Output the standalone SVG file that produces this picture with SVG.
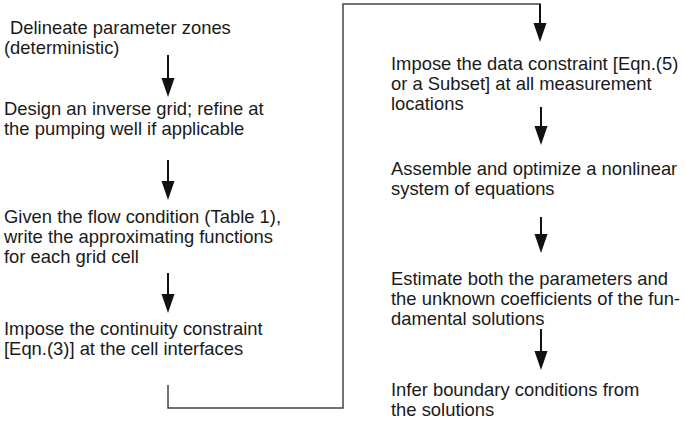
<svg xmlns="http://www.w3.org/2000/svg" width="686" height="422" viewBox="0 0 686 422">
  <defs>
    <marker id="ah" markerUnits="userSpaceOnUse" markerWidth="20" markerHeight="14" refX="9" refY="6.5" orient="auto">
      <path d="M0,0 L19,6.5 L0,13 z" fill="#111"/>
    </marker>
    <style>
      text { font-family: "Liberation Sans", Arial, sans-serif; font-size: 18.4px; fill: #1a1a1a; }
      .arrow { stroke: #111; stroke-width: 2; fill: none; marker-end: url(#ah); }
      .conn { stroke: #444; stroke-width: 1.5; fill: none; }
    </style>
  </defs>
  <rect width="686" height="422" fill="#fff"/>

  <g id="n1">
    <text x="10" y="34">Delineate parameter zones</text>
    <text x="4" y="54">(deterministic)</text>
  </g>
  <g id="n2">
    <text x="4" y="115">Design an inverse grid; refine at</text>
    <text x="4" y="135">the pumping well if applicable</text>
  </g>
  <g id="n3">
    <text x="4" y="223">Given the flow condition (Table 1),</text>
    <text x="4" y="243">write the approximating functions</text>
    <text x="4" y="263">for each grid cell</text>
  </g>
  <g id="n4">
    <text x="4" y="335">Impose the continuity constraint</text>
    <text x="4" y="355">[Eqn.(3)] at the cell interfaces</text>
  </g>
  <g id="n5">
    <text x="391" y="70">Impose the data constraint [Eqn.(5)</text>
    <text x="391" y="90">or a Subset] at all measurement</text>
    <text x="391" y="110">locations</text>
  </g>
  <g id="n6">
    <text x="391" y="175">Assemble and optimize a nonlinear</text>
    <text x="391" y="195">system of equations</text>
  </g>
  <g id="n7">
    <text x="391" y="285">Estimate both the parameters and</text>
    <text x="391" y="305">the unknown coefficients of the fun-</text>
    <text x="391" y="325">damental solutions</text>
  </g>
  <g id="n8">
    <text x="391" y="396">Infer boundary conditions from</text>
    <text x="391" y="416">the solutions</text>
  </g>

  <g id="connectors">
    <line class="arrow" x1="168" y1="55" x2="168" y2="87"/>
    <line class="arrow" x1="168" y1="160" x2="168" y2="190"/>
    <line class="arrow" x1="168" y1="273" x2="168" y2="303"/>
    <path class="conn" d="M168,385 V408 H343 V4 H540 V20"/>
    <line class="arrow" x1="540" y1="4" x2="540" y2="32"/>
    <line class="arrow" x1="541" y1="107" x2="541" y2="135"/>
    <line class="arrow" x1="541" y1="217" x2="541" y2="243"/>
    <line class="arrow" x1="541" y1="329" x2="541" y2="360"/>
  </g>
</svg>
